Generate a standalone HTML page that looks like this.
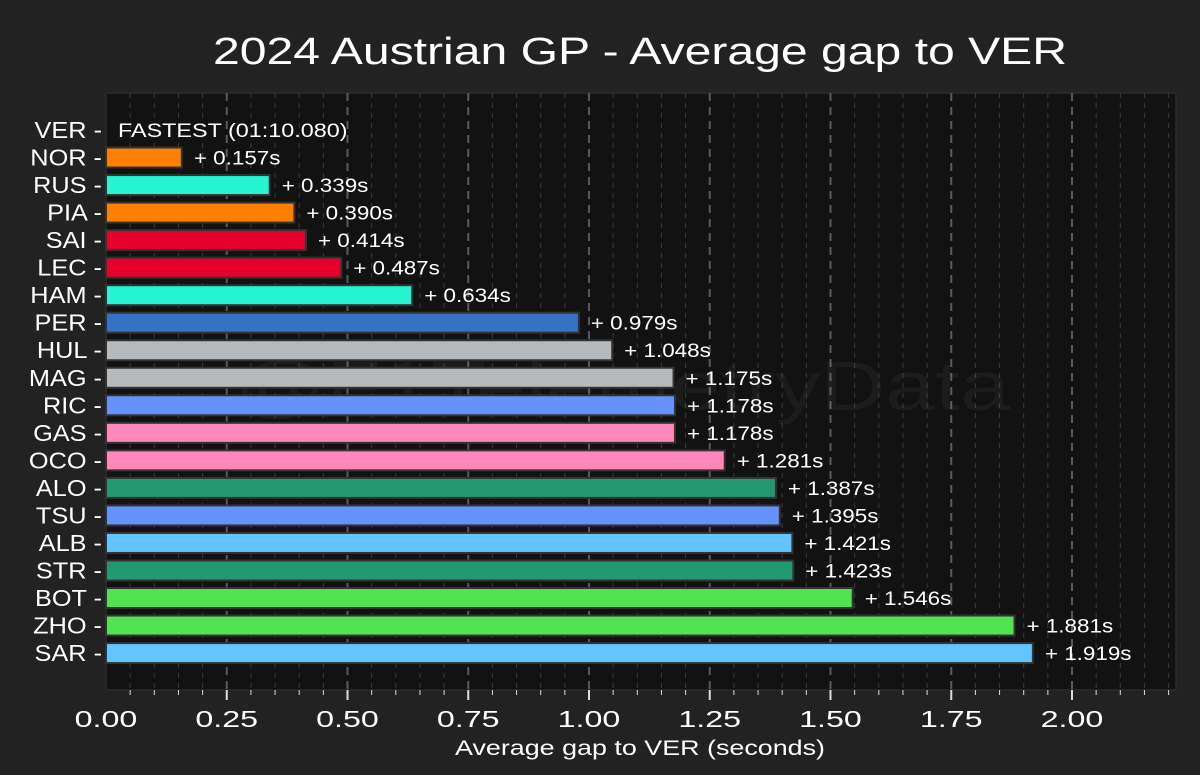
<!DOCTYPE html>
<html><head><meta charset="utf-8">
<style>
html,body{margin:0;padding:0;background:#222222;}
svg{display:block;font-family:"Liberation Sans",sans-serif;}
</style></head>
<body>
<svg id="chart" width="1200" height="775" xmlns="http://www.w3.org/2000/svg">
<rect x="0" y="0" width="1200" height="775" fill="#222222"/>
<text x="640" y="64" text-anchor="middle" font-size="38" fill="#ffffff" textLength="854" lengthAdjust="spacingAndGlyphs">2024 Austrian GP - Average gap to VER</text>
<rect x="106" y="93" width="1070" height="597" fill="#121212" stroke="#2e2a28" stroke-width="1.5"/>
<g id="grid"></g>
<text x="235" y="410" font-size="70" fill="#ffffff" fill-opacity="0.045" textLength="775" lengthAdjust="spacingAndGlyphs">@F1TelemetryData</text>
<g id="bars"></g>
<g id="xaxis"></g>
<text x="640" y="755" text-anchor="middle" font-size="21" fill="#ffffff" textLength="370" lengthAdjust="spacingAndGlyphs">Average gap to VER (seconds)</text>
</svg>
<script>
const drivers = ["VER","NOR","RUS","PIA","SAI","LEC","HAM","PER","HUL","MAG","RIC","GAS","OCO","ALO","TSU","ALB","STR","BOT","ZHO","SAR"];
const gaps = [0,0.157,0.339,0.390,0.414,0.487,0.634,0.979,1.048,1.175,1.178,1.178,1.281,1.387,1.395,1.421,1.423,1.546,1.881,1.919];
const colors = ["#3671C6","#FF8000","#27F4D2","#FF8000","#E8002D","#E8002D","#27F4D2","#3671C6","#B6BABD","#B6BABD","#6692FF","#FF87BC","#FF87BC","#229971","#6692FF","#64C4FF","#229971","#52E252","#52E252","#64C4FF"];
const xTicks = [0,0.25,0.5,0.75,1.0,1.25,1.5,1.75,2.0];
const xTickLabels = ["0.00","0.25","0.50","0.75","1.00","1.25","1.50","1.75","2.00"];
const fastestLabel = "FASTEST (01:10.080)";

const NS="http://www.w3.org/2000/svg";
const X0=106, PXU=483, TOP=93, BOT=690, RIGHT=1176;
const xs = v => X0 + v*PXU;
const ys = i => 130 + i*27.53;
function mk(tag, attrs, parent){const e=document.createElementNS(NS,tag);for(const k in attrs)e.setAttribute(k,attrs[k]);parent.appendChild(e);return e;}
function widen(t,f){const w=t.getComputedTextLength();t.setAttribute('textLength',w*f);t.setAttribute('lengthAdjust','spacingAndGlyphs');}
const grid=document.getElementById('grid'), bars=document.getElementById('bars'), xa=document.getElementById('xaxis');

for(let k=1;k*0.05<=2.2;k++){
  const v=k*0.05, x=xs(v), major=(k%5===0);
  const l=mk('line',{x1:x,x2:x,y1:TOP,y2:BOT,stroke:major?'#5a5a5a':'#3a3a3a','stroke-width':major?2:1,'stroke-dasharray':major?'8,6':'5,5'},grid);
  
  
  const t=mk('line',{x1:x,x2:x,y1:BOT,y2:BOT+(major?10:5),stroke:'#dddddd','stroke-width':major?2:1},xa);
  
  
}
xTicks.forEach((v,i)=>{
  const t=mk('text',{x:xs(v),y:727,'text-anchor':'middle','font-size':23,fill:'#ffffff'},xa);
  t.textContent=xTickLabels[i];
  
  
  widen(t,1.4);
});

drivers.forEach((d,i)=>{
  const y=ys(i);
  const lab=mk('text',{x:102,y:y+8,'text-anchor':'end','font-size':23,fill:'#ffffff'},bars);
  lab.textContent=d+" -";
  
  
  widen(lab,1.1);
  if(gaps[i]===0){
    const t=mk('text',{x:118,y:y+7,'font-size':19,fill:'#ffffff'},bars);
    t.textContent=fastestLabel;
    
    
    widen(t,1.23);
    return;
  }
  const r=mk('rect',{x:X0,y:y-10,width:xs(gaps[i])-X0,height:20,fill:colors[i],stroke:'#333333','stroke-width':2},bars);
  
  
  const t=mk('text',{x:xs(gaps[i])+12,y:y+7,'font-size':19,fill:'#ffffff'},bars);
  t.textContent="+ "+gaps[i].toFixed(3)+"s";
  
  
  widen(t,1.18);
});
</script>
</body></html>
